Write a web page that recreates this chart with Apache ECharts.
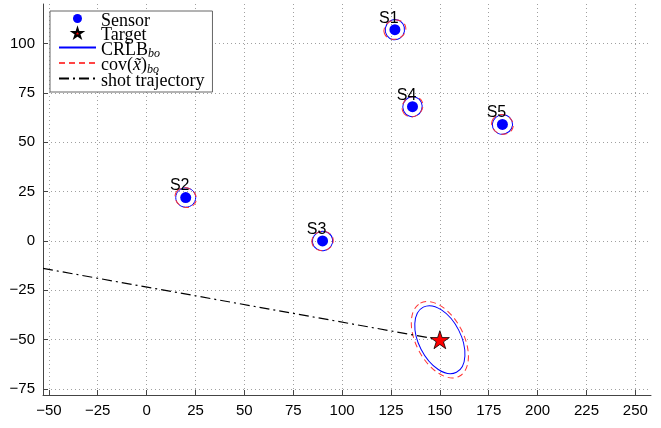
<!DOCTYPE html>
<html><head><meta charset="utf-8">
<script src="https://cdn.jsdelivr.net/npm/echarts@6/dist/echarts.min.js"></script>
<style>html,body{margin:0;padding:0;background:#fff}#c{width:661px;height:428px}</style>
</head><body><div id="c"></div>
<script>
// ---- data ----
const sensorNames = ['S1', 'S2', 'S3', 'S4', 'S5'];
const sensorX = [127, 20, 90, 136, 182];
const sensorY = [107, 22, 0, 68, 59];
const targetX = [150];
const targetY = [-50];
const trajX = [-53, 150];
const trajY = [-13.9, -50];
// ellipses, order: S1, S2, S3, S4, S5, Target (semi-axes in data units, angle in degrees)
const crlbA = [5.2, 5.1, 5.2, 5.1, 5.2, 18.7];
const crlbB = [4.9, 4.9, 4.9, 4.9, 4.9, 10.7];
const crlbAng = [80, 0, 10, 70, 20, -63];
const covA = [5.7, 5.6, 5.5, 5.6, 5.6, 21.2];
const covB = [4.8, 4.9, 4.9, 4.9, 4.9, 12.0];
const covAng = [20, -30, 10, 40, -20, -62];
const xTicks = [-50, -25, 0, 25, 50, 75, 100, 125, 150, 175, 200, 225, 250];
const yTicks = [-75, -50, -25, 0, 25, 50, 75, 100];

const STAR = 'path://M0,-1 L0.2245,-0.309 L0.951,-0.309 L0.3633,0.118 L0.5878,0.809 L0,0.382 L-0.5878,0.809 L-0.3633,0.118 L-0.951,-0.309 L-0.2245,-0.309 Z';
const minus = v => String(v).replace('-', '\u2212');

const ellCenters = sensorX.map((x, i) => [x, sensorY[i]]).concat(targetX.map((x, i) => [x, targetY[i]]));

function ellipseRenderer(color, dash, A, B, ANG) {
  return function (params, api) {
    const i = params.dataIndex;
    const c = api.coord([api.value(0), api.value(1)]);
    const s = api.size([A[i], B[i]]);
    return {
      type: 'ellipse',
      x: c[0], y: c[1],
      rotation: ANG[i] * Math.PI / 180,
      shape: { cx: 0, cy: 0, rx: s[0], ry: s[1] },
      style: { fill: 'none', stroke: color, lineWidth: 1, lineDash: dash }
    };
  };
}

const axisFont = { fontFamily: 'Liberation Sans Narrow, Liberation Sans, Arial', fontSize: 15, color: '#000' };
const noDot = { opacity: 0, color: 'rgba(0,0,0,0)', borderWidth: 0 };

const chart = echarts.init(document.getElementById('c'), null, { renderer: 'canvas' });
chart.setOption({
  animation: false,
  backgroundColor: '#fff',
  grid: { left: 43, right: 10, top: 4, bottom: 33 },
  xAxis: {
    type: 'value', min: -53, max: 258,
    axisLine: { show: true, onZero: false, lineStyle: { color: '#444', width: 1 } },
    axisTick: { show: true, inside: true, length: 5, customValues: xTicks, lineStyle: { color: '#444' } },
    axisLabel: Object.assign({ customValues: xTicks, margin: 8, formatter: minus }, axisFont),
    splitLine: { show: true, lineStyle: { type: [1, 3], color: '#a0a0a0', width: 1 } }
  },
  yAxis: {
    type: 'value', min: -78, max: 120,
    axisLine: { show: true, onZero: false, lineStyle: { color: '#444', width: 1 } },
    axisTick: { show: true, inside: true, length: 5, customValues: yTicks, lineStyle: { color: '#444' } },
    axisLabel: Object.assign({ customValues: yTicks, margin: 8, formatter: minus }, axisFont),
    splitLine: { show: true, lineStyle: { type: [1, 3], color: '#a0a0a0', width: 1 } }
  },
  legend: {
    data: [
      { name: 'Sensor' },
      { name: 'Target' },
      { name: 'CRLB', itemStyle: noDot },
      { name: 'cov', itemStyle: noDot },
      { name: 'shot trajectory', itemStyle: noDot }
    ],
    orient: 'vertical',
    left: 50, top: 11,
    padding: [1, 8, 2, 8],
    itemWidth: 37, itemHeight: 9, itemGap: -3.5,
    backgroundColor: '#fff',
    borderColor: '#666', borderWidth: 1, borderRadius: 0,
    selectedMode: false,
    textStyle: {
      fontFamily: 'Liberation Serif', fontSize: 18, color: '#000', lineHeight: 13,
      rich: {
        t: { fontFamily: 'Liberation Serif', fontSize: 18, lineHeight: 13, verticalAlign: 'top' },
        i: { fontFamily: 'Liberation Serif', fontSize: 18, fontStyle: 'italic', lineHeight: 13, verticalAlign: 'top' },
        s: { fontFamily: 'Liberation Serif', fontSize: 12, fontStyle: 'italic', lineHeight: 6, verticalAlign: 'top', padding: [7, 0, 0, 0] }
      }
    },
    formatter: function (name) {
      if (name === 'CRLB') return '{t|CRLB}{s|bo}';
      if (name === 'cov') return '{t|cov(}{i|x\u0303}{t|)}{s|bo}';
      return '{t|' + name + '}';
    }
  },
  series: [
    {
      name: 'Sensor', type: 'scatter', z: 5,
      data: sensorX.map((x, i) => [x, sensorY[i], sensorNames[i]]),
      symbol: 'circle', symbolSize: 11,
      itemStyle: { color: '#0000ff', opacity: 1 },
      label: {
        show: true, position: 'top', distance: 0, offset: [-6, 2],
        formatter: p => p.value[2],
        fontFamily: 'Liberation Sans, Arial', fontSize: 16, color: '#000'
      }
    },
    {
      name: 'Target', type: 'scatter', z: 6,
      data: targetX.map((x, i) => [x, targetY[i]]),
      symbol: STAR, symbolSize: [19, 18], symbolKeepAspect: false,
      itemStyle: { color: '#ff0000', borderColor: '#000', borderWidth: 0.8, opacity: 1 }
    },
    {
      name: 'CRLB', type: 'line', data: [], symbol: 'none',
      lineStyle: { color: '#0000ff', width: 1 }, itemStyle: { color: '#0000ff' }
    },
    {
      name: 'cov', type: 'line', data: [], symbol: 'none',
      lineStyle: { color: '#ff4444', width: 1, type: [6, 4] }, itemStyle: { color: '#ff4444' }
    },
    {
      name: 'shot trajectory', type: 'line', z: 3,
      data: trajX.map((x, i) => [x, trajY[i]]),
      symbol: 'none', clip: true,
      lineStyle: { color: '#000', width: 1.2, type: [10, 4, 2, 4] }, itemStyle: { color: '#000' }
    },
    {
      name: 'CRLB', type: 'custom', coordinateSystem: 'cartesian2d', z: 2, clip: true,
      data: ellCenters,
      renderItem: ellipseRenderer('#0000ff', null, crlbA, crlbB, crlbAng)
    },
    {
      name: 'cov', type: 'custom', coordinateSystem: 'cartesian2d', z: 2, clip: true,
      data: ellCenters,
      renderItem: ellipseRenderer('#ff3333', [6, 4], covA, covB, covAng)
    }
  ]
});
</script>
</body></html>
